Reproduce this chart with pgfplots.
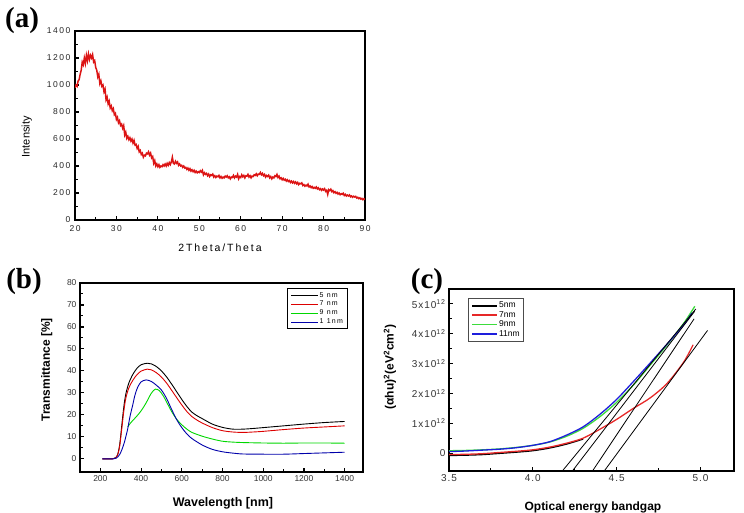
\documentclass[border=0pt]{standalone}
\usepackage{fontspec}
\setmainfont{Liberation Sans}
\newfontfamily\spaced[LetterSpace=18]{Liberation Sans}
\newfontfamily\spacedc[LetterSpace=10]{Liberation Sans}
\newfontfamily\serifb{Liberation Serif}
\usepackage{pgfplots}
\pgfplotsset{compat=1.18}
\definecolor{ared}{RGB}{220,20,20}
\definecolor{bred}{RGB}{220,0,0}
\definecolor{bgreen}{RGB}{0,215,0}
\definecolor{bblue}{RGB}{0,0,170}
\definecolor{cred}{RGB}{230,40,40}
\definecolor{cgreen}{RGB}{60,220,60}
\definecolor{cblue}{RGB}{30,30,220}
\pgfplotsset{
  common/.style={
    scale only axis, anchor=south west,
    axis line style={line width=1.6pt},
    major tick style={line width=1.1pt, black},
    minor tick style={line width=1.0pt, black},
    major tick length=4pt, minor tick length=2.5pt,
    xtick pos=lower, ytick pos=left, tick align=inside,
    /pgf/number format/assume math mode=true,
    clip=true,
  }
}
\begin{document}
\begin{tikzpicture}[x=1pt,y=1pt]
\useasboundingbox (0,0) rectangle (744,513);
% ---------------- (a)
\begin{axis}[common,
  at={(75pt,293pt)}, width=290pt, height=189pt,
  xmin=20, xmax=90, ymin=0, ymax=1400,
  xtick={20,30,...,90}, ytick={0,200,...,1400},
  minor x tick num=1, minor y tick num=1,
  tick label style={font=\spaced\fontsize{8.5}{9}\selectfont, text=black!85},
  xticklabel style={yshift=-2pt},
  yticklabel style={xshift=-1pt},
  /pgf/number format/1000 sep={},
  xlabel={2Theta/Theta}, ylabel={Intensity},
  xlabel style={at={(axis description cs:0.5,-0.148)}, anchor=center, font=\spaced\fontsize{10.5}{12}\selectfont},
  ylabel style={at={(axis description cs:-0.166,0.44)}, anchor=center, rotate=0, font=\fontsize{11}{12}\selectfont},
]
\addplot[ared, line width=1.5pt] table {
20 980
20.25 1000
20.5 990
20.75 1030
21 1040
21.25 1080
21.5 1110
21.75 1170
22 1150
22.25 1200
22.5 1160
22.75 1220
23 1180
23.25 1230
23.5 1190
23.75 1220
24 1200
24.25 1225
24.5 1170
24.75 1180
25 1130
25.25 1110
25.5 1060
25.75 1080
26 1010
26.25 1030
26.5 990
26.75 1000
27 950
27.25 970
27.5 890
27.75 910
28 860
28.25 880
28.5 830
28.75 845
29 810
29.25 825
29.5 780
29.75 790
30 745
30.25 760
30.5 720
30.75 735
31 700
31.25 710
31.5 680
31.75 700
32 630
32.25 650
32.5 605
32.75 620
33 595
33.25 610
33.5 585
33.75 600
34 570
34.25 590
34.5 555
34.75 560
35 530
35.25 545
35.5 505
35.75 515
36 485
36.25 495
36.5 465
36.75 480
37 475
37.25 495
37.5 490
37.75 505
38 480
38.25 495
38.5 460
38.75 470
39 420
39.25 440
39.5 400
39.75 415
40 395
40.25 410
40.5 390
40.75 400
41 395
41.25 410
41.5 400
41.75 415
42 400
42.25 420
42.5 405
42.75 425
43 410
43.25 430
43.5 465
43.75 420
44 415
44.25 435
44.5 420
44.75 430
45 405
45.25 415
45.5 400
45.75 405
46 390
46.25 400
46.5 385
46.75 390
47 375
47.25 385
47.5 368
47.75 380
48 362
48.25 372
48.5 358
48.75 368
49 352
49.25 362
49.5 350
49.75 358
50 352
50.25 365
50.5 355
50.75 368
51 335
51.25 350
51.5 338
51.75 345
52 328
52.25 340
52.5 322
52.75 335
53 330
53.25 340
53.5 318
53.75 328
54 315
54.25 325
54.5 320
54.75 330
55 312
55.25 322
55.5 310
55.75 318
56 312
56.25 325
56.5 318
56.75 328
57 312
57.25 320
57.5 305
57.75 318
58 315
58.25 330
58.5 312
58.75 325
59 318
59.25 338
59.5 305
59.75 322
60 315
60.25 335
60.5 320
60.75 330
61 312
61.25 328
61.5 325
61.75 338
62 318
62.25 328
62.5 312
62.75 325
63 322
63.25 335
63.5 330
63.75 342
64 328
64.25 340
64.5 338
64.75 352
65 335
65.25 345
65.5 328
65.75 338
66 318
66.25 330
66.5 322
66.75 332
67 312
67.25 322
67.5 305
67.75 318
68 312
68.25 328
68.5 322
68.75 338
69 315
69.25 325
69.5 305
69.75 312
70 298
70.25 308
70.5 295
70.75 302
71 288
71.25 298
71.5 285
71.75 292
72 278
72.25 288
72.5 275
72.75 285
73 272
73.25 282
73.5 268
73.75 278
74 262
74.25 272
74.5 268
74.75 275
75 255
75.25 262
75.5 250
75.75 258
76 252
76.25 265
76.5 245
76.75 252
77 240
77.25 248
77.5 235
77.75 242
78 235
78.25 245
78.5 230
78.75 238
79 225
79.25 232
79.5 220
79.75 230
80 222
80.25 232
80.5 212
80.75 220
81 190
81.25 225
81.5 218
81.75 228
82 210
82.25 218
82.5 202
82.75 210
83 198
83.25 205
83.5 192
83.75 200
84 188
84.25 195
84.5 190
84.75 198
85 182
85.25 190
85.5 178
85.75 185
86 178
86.25 186
86.5 172
86.75 178
87 168
87.25 176
87.5 170
87.75 175
88 163
88.25 168
88.5 158
88.75 164
89 155
89.25 160
89.5 150
89.75 158
90 152
};
\end{axis}
% ---------------- (b)
\begin{axis}[common,
  at={(80pt,41pt)}, width=283pt, height=189pt,
  xmin=100, xmax=1490, ymin=-6, ymax=80,
  xtick={200,400,...,1400}, ytick={0,10,...,80},
  minor x tick num=1, minor y tick num=1,
  tick label style={font=\fontsize{8.5}{9}\selectfont, text=black!80},
  /pgf/number format/1000 sep={},
  xlabel={Wavelength [nm]}, ylabel={Transmittance [\%]},
  xlabel style={at={(axis description cs:0.505,-0.164)}, anchor=center, font=\bfseries\fontsize{12.5}{14}\selectfont},
  ylabel style={at={(axis description cs:-0.117,0.54)}, anchor=center, font=\bfseries\fontsize{12}{14}\selectfont},
  legend style={at={(0.733,0.972)}, anchor=north west, draw=black, line width=0.8pt,
    font=\spaced\fontsize{7}{8}\selectfont, row sep=0.6pt, inner xsep=3pt, inner ysep=2.5pt,
    nodes={inner sep=1pt}},
  legend cell align=left,
  legend image code/.code={\draw[#1, line width=0.9pt] (0pt,0pt) -- (27pt,0pt);},
]
\addplot[black, line width=0.9pt, smooth] table {
210 0
260 0
275 0.5
285 2
295 6.5
305 15
315 23.5
325 29.5
340 34.5
360 38.5
380 41.2
400 42.8
430 43.5
450 43.2
475 42
500 40
525 37.3
550 34
575 30.5
600 27
625 23.8
650 21.2
675 19.6
700 18.3
750 15.8
800 14.3
850 13.5
900 13.5
950 13.8
1000 14.2
1100 15
1200 15.8
1300 16.5
1400 17
};
\addlegendentry{5 nm}
\addplot[bred, line width=0.9pt, smooth] table {
210 0
260 0
275 0.4
285 1.8
295 5.8
305 13.5
315 21.5
325 27.5
340 32.3
360 35.8
380 38.3
400 39.9
430 40.8
450 40.5
475 39.2
500 37.2
525 34.5
550 31.2
575 27.8
600 24.5
625 21.5
650 19.2
675 17.6
700 16.3
750 14.2
800 12.8
850 12.2
900 12.0
950 12.2
1000 12.5
1100 13.3
1200 14
1300 14.5
1400 15
};
\addlegendentry{7 nm}
\addplot[bgreen, line width=0.9pt, smooth] table {
334 14.5
350 16.5
375 19
400 21.8
425 25.5
450 29.8
470 31.7
490 31
510 28.5
530 25
550 21.5
575 18
600 15.5
625 13.5
650 12
700 10.3
750 9
800 8
850 7.6
900 7.4
1000 7.2
1100 7.1
1200 7.2
1300 7.2
1400 7.1
};
\addlegendentry{9 nm}
\addplot[bblue, line width=0.9pt, smooth] table {
210 0
265 0
278 0.3
287 1
295 2
305 4
318 7.5
334 13.5
345 19
359 24.5
370 29
383 32.5
400 35
425 35.9
450 35.2
475 33.5
500 31.3
525 27.5
550 22.5
575 17.8
600 14.2
625 11.3
650 9.2
700 6.3
750 4.3
800 3.2
850 2.6
900 2.2
1000 2.1
1100 2.1
1200 2.4
1300 2.7
1400 3
};
\addlegendentry{1 1nm}
\end{axis}
% ---------------- (c)
\begin{axis}[common,
  at={(449pt,42pt)}, width=285pt, height=182pt,
  xmin=3.5, xmax=5.2, ymin=-0.6, ymax=5.5,
  xtick={3.5,4.0,4.5,5.0}, xticklabels={3.5,4.0,4.5,5.0},
  ytick={0,1,2,3,4,5},
  yticklabels={0,1x10\textsuperscript{12},2x10\textsuperscript{12},3x10\textsuperscript{12},4x10\textsuperscript{12},5x10\textsuperscript{12}},
  minor x tick num=1, minor y tick num=1,
  tick label style={font=\spacedc\fontsize{10}{11}\selectfont, text=black!80},
  xlabel={Optical energy bandgap}, ylabel={(αhu)\textsuperscript{2}(eV\textsuperscript{2}cm\textsuperscript{2})},
  xlabel style={at={(axis description cs:0.505,-0.198)}, anchor=center, font=\bfseries\fontsize{12}{14}\selectfont},
  ylabel style={at={(axis description cs:-0.207,0.571)}, anchor=center, font=\bfseries\fontsize{12}{14}\selectfont},
  legend style={at={(0.068,0.949)}, anchor=north west, draw=black!70, line width=0.7pt,
    font=\fontsize{8.5}{9}\selectfont, row sep=0pt, inner xsep=3pt, inner ysep=2.5pt,
    nodes={inner sep=1pt}},
  legend cell align=left,
  legend image code/.code={\draw[#1, line width=1.4pt] (0pt,0pt) -- (25pt,0pt);},
]
\addplot[black, line width=1.3pt, smooth] table {
3.5 -0.08
3.6 -0.07
3.7 -0.05
3.8 -0.01
3.9 0.03
4.0 0.08
4.1 0.17
4.2 0.30
4.3 0.47
};
\addlegendentry{5nm}
\addplot[cred, line width=1.3pt, smooth] table {
3.5 -0.05
3.6 -0.04
3.7 -0.02
3.8 0.02
3.9 0.06
4.0 0.11
4.1 0.2
4.2 0.33
4.3 0.5
4.4 0.8
4.5 1.13
4.6 1.5
4.7 1.85
4.8 2.33
4.9 3.05
4.956 3.63
};
\addlegendentry{7nm}
\addplot[cgreen, line width=1.3pt, smooth] table {
3.5 0.08
3.6 0.09
3.7 0.11
3.8 0.14
3.9 0.19
4.0 0.26
4.1 0.37
4.2 0.56
4.3 0.83
4.4 1.22
4.5 1.7
4.6 2.28
4.7 2.95
4.8 3.62
4.9 4.35
4.966 4.92
};
\addlegendentry{9nm}
\addplot[cblue, line width=1.3pt, smooth] table {
3.5 0.05
3.6 0.07
3.7 0.1
3.8 0.13
3.9 0.18
4.0 0.26
4.1 0.38
4.2 0.6
4.3 0.88
4.4 1.3
4.5 1.8
4.6 2.4
4.7 3.02
4.8 3.65
4.9 4.3
4.95 4.7
};
\addlegendentry{11nm}
\addplot[black, line width=0.8pt, forget plot] table {
4.176 -0.6
4.972 4.83
};
\addplot[black, line width=0.8pt, forget plot] table {
4.236 -0.6
4.965 4.75
};
\addplot[black, line width=0.8pt, forget plot] table {
4.356 -0.6
4.962 4.50
};
\addplot[black, line width=0.8pt, forget plot] table {
4.426 -0.6
5.042 4.11
};
\end{axis}
% panel letters
\node[font=\serifb\bfseries\fontsize{29}{30}\selectfont] at (22,492) {(a)};
\node[font=\serifb\bfseries\fontsize{29}{30}\selectfont] at (24,231) {(b)};
\node[font=\serifb\bfseries\fontsize{29}{30}\selectfont] at (427,231) {(c)};
\end{tikzpicture}
\end{document}
